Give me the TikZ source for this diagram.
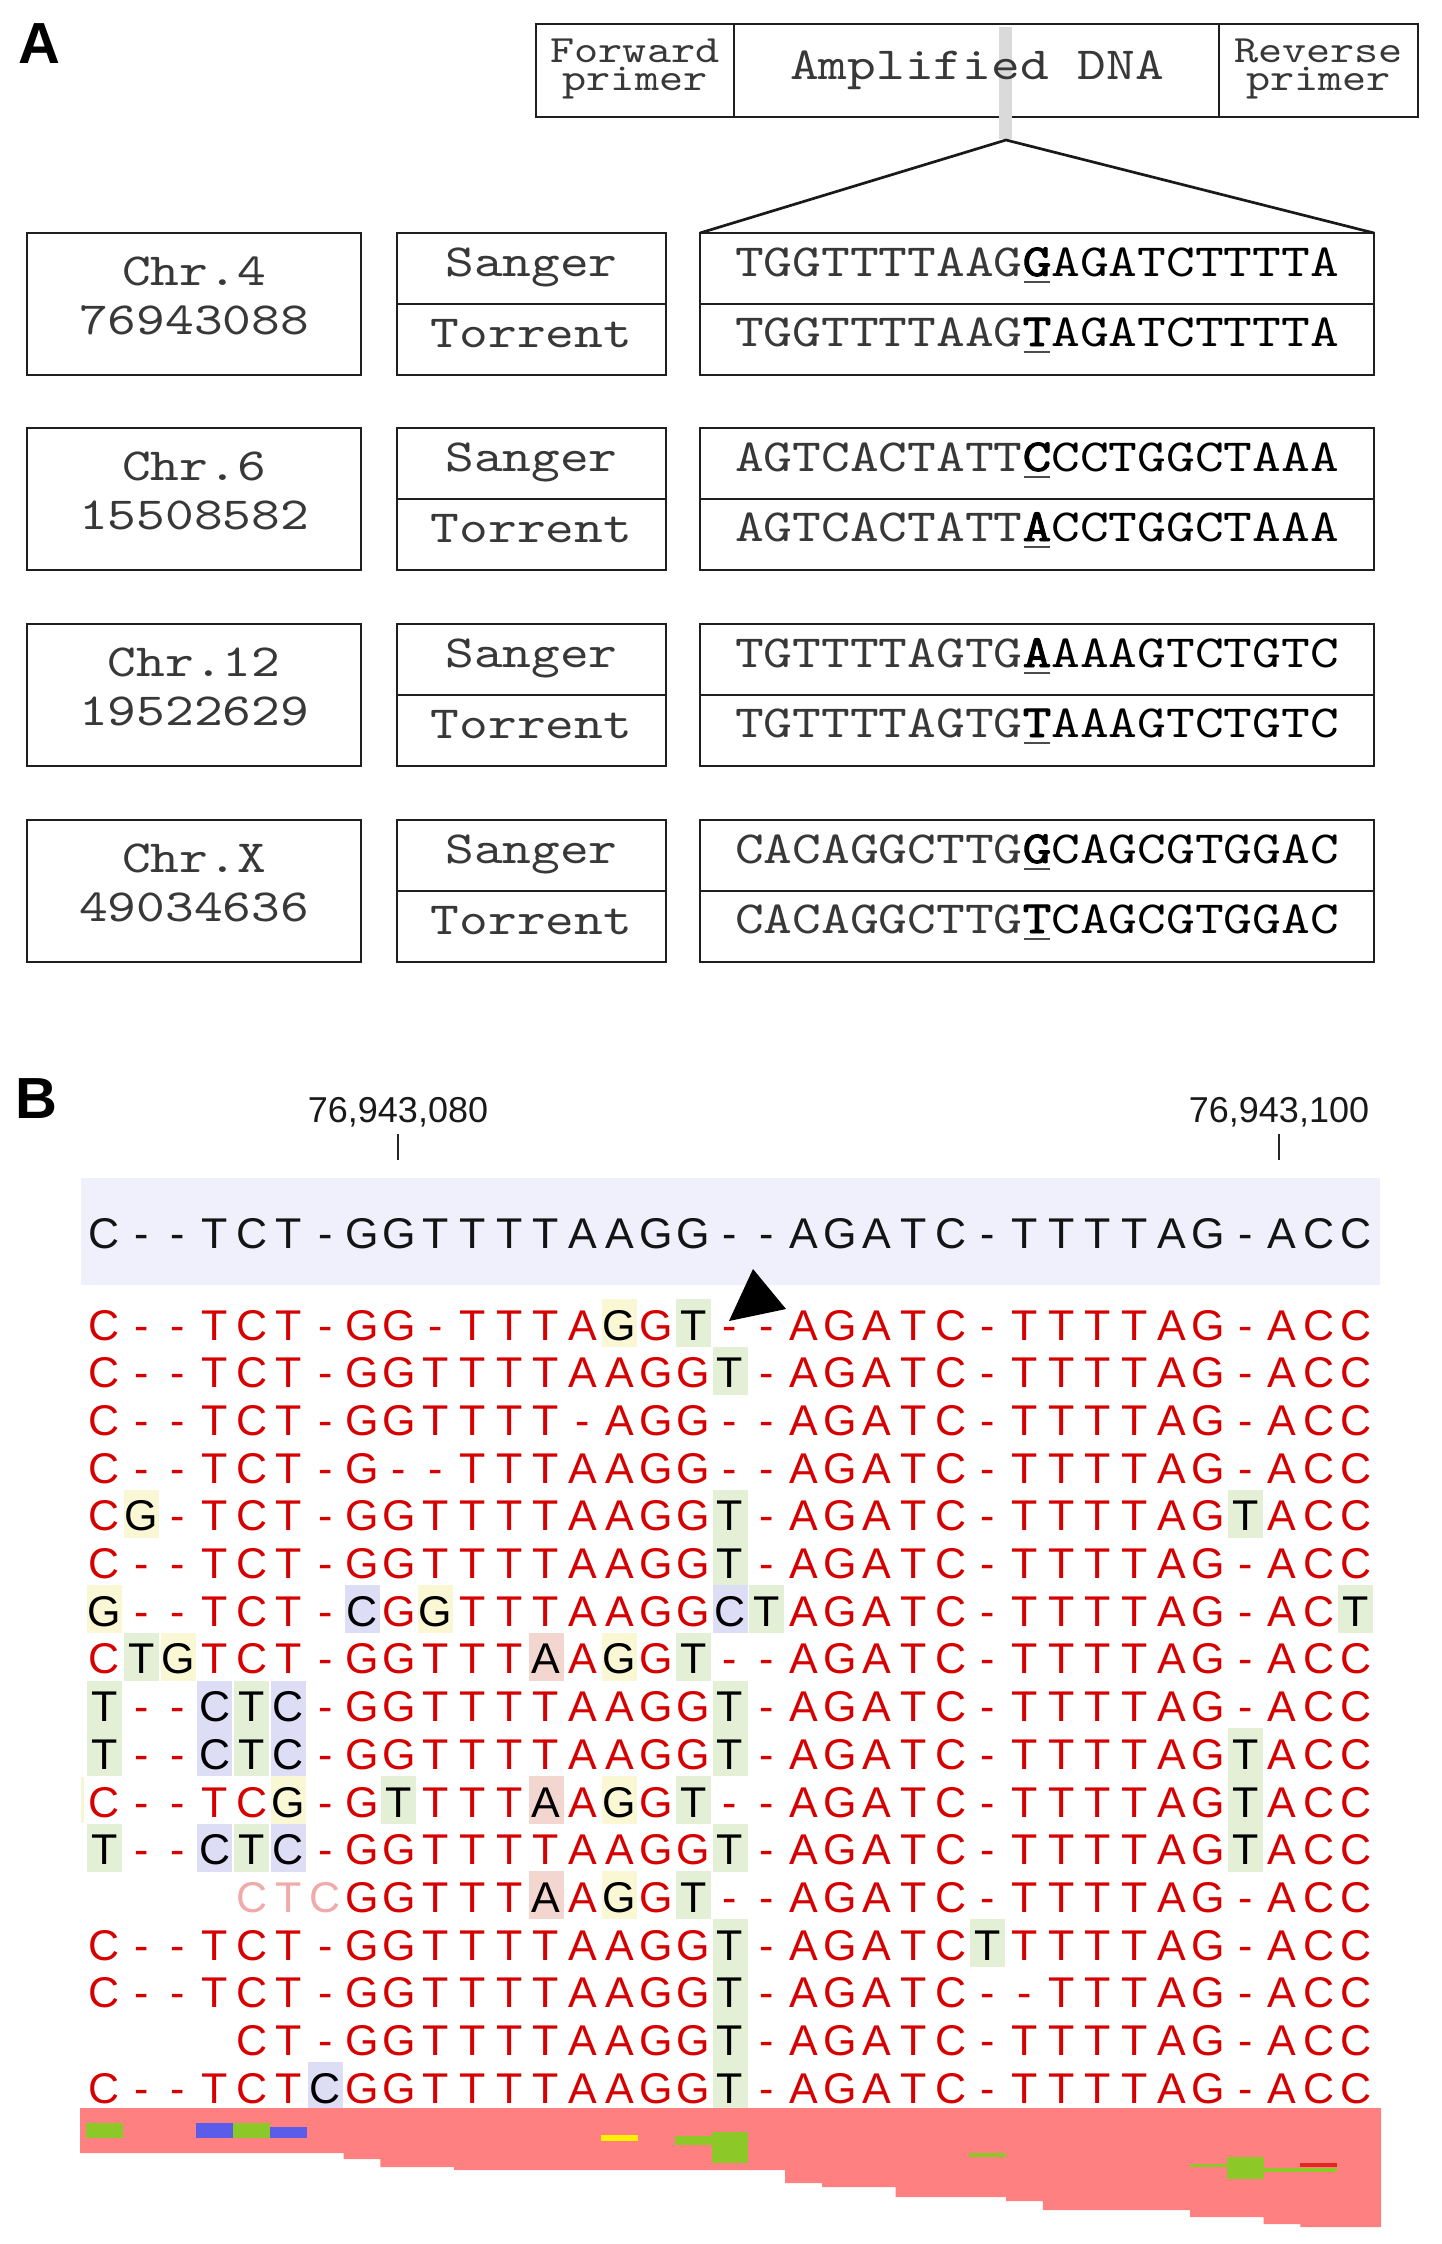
\documentclass[tikz,border=0pt]{standalone}
\usepackage{fontspec}
\setmainfont{Liberation Sans}
\newfontfamily\monof[FakeStretch=1.19]{lmmono10-regular.otf}
\newfontfamily\monob[FakeStretch=1.19,FakeBold=2]{lmmono10-regular.otf}
\newfontfamily\sansf{Liberation Sans}
\definecolor{rdtxt}{RGB}{214,0,0}
\definecolor{hly}{RGB}{250,248,212}
\definecolor{hlg}{RGB}{228,240,214}
\definecolor{hlb}{RGB}{221,221,246}
\definecolor{hlp}{RGB}{244,214,208}
\definecolor{fadetxt}{RGB}{240,170,170}
\definecolor{bandc}{RGB}{240,240,252}
\definecolor{salmon}{RGB}{255,128,128}
\definecolor{covg}{RGB}{140,200,40}
\definecolor{covb}{RGB}{92,92,235}
\definecolor{covy}{RGB}{255,240,0}
\definecolor{covr}{RGB}{225,40,30}
\definecolor{barc}{RGB}{218,218,218}

\newcounter{colidx}
\newcommand\sethl[3]{\expandafter\gdef\csname hl-#1-#2\endcsname{#3}}
\newcommand\drawrow[4]{\def\rowpre{#1}\def\rowy{#2}\def\rowdef{#3}\setcounter{colidx}{0}\dorow#4\relax}
\def\dorow#1{\ifx#1\relax\else\placechar#1\stepcounter{colidx}\expandafter\dorow\fi}
\def\placechar#1{\ifx#1.\else
  \edef\hlkey{hl-\rowpre-\arabic{colidx}}%
  \ifcsname\hlkey\endcsname\edef\curst{\csname\hlkey\endcsname}\else\edef\curst{\rowdef}\fi
  \edef\donode{\noexpand\node[cellbase,cell\curst] (\rowpre c\arabic{colidx}) at ({86+(\arabic{colidx}+0.5)*36.8},\rowy) {#1};}%
  \donode
\fi}
\newcommand\ulb[1]{\setbox0\hbox{\monob\color{black}#1}\rlap{\hspace{0.5pt}\color{black!70}\rule[-3.3pt]{\dimexpr\wd0-1pt\relax}{1pt}}\box0}
\newcommand\abox[5]{\node[boxst, minimum width={((#4)-(#2))*0.5pt}, minimum height={((#5)-(#3))*0.5pt}] (#1) at ({((#2)+(#4))/2},{((#3)+(#5))/2}) {};}

\tikzset{
  cellbase/.style={inner sep=0pt, minimum width=17.5pt, text height=20.5pt, text depth=3.5pt, anchor=base, font={\sansf\fontsize{21.5}{21.5}\selectfont}},
  cellr/.style={text=rdtxt},
  cellk/.style={text=black!92},
  celly/.style={fill=hly, text=black},
  cellg/.style={fill=hlg, text=black},
  cellb/.style={fill=hlb, text=black},
  cellp/.style={fill=hlp, text=black},
  cellf/.style={text=fadetxt},
  boxst/.style={draw=black!88, line width=1.35pt, inner sep=0pt, outer sep=0pt},
  atext/.style={anchor=base, inner sep=0pt, text=black!78, font={\monof\fontsize{23}{23}\selectfont}},
  ptexta/.style={anchor=base, inner sep=0pt, text=black!78, text height=12pt, text depth=0pt, font={\monof\fontsize{19.3}{19.3}\selectfont}},
  ptextb/.style={anchor=base, inner sep=0pt, text=black!78, text height=6pt, text depth=4pt, font={\monof\fontsize{19.3}{19.3}\selectfont}},
  plabel/.style={anchor=base west, inner sep=0pt, font={\sansf\bfseries\fontsize{29}{29}\selectfont}},
  ticklab/.style={anchor=base, inner sep=0pt, text=black!90, font={\sansf\fontsize{18}{18}\selectfont}},
  tickline/.style={line width=1pt, black!85},
  zoomline/.style={line width=1.35pt, black!90},
}

\begin{document}
\begin{tikzpicture}[x=0.5pt, y=-0.5pt]
\useasboundingbox (0,0) rectangle (1441,2244);

% ---------------- Panel A ----------------
\node[plabel] (labA) at (18,63) {A};

\abox{pf}{536}{24}{734}{117}
\abox{pa}{734}{24}{1219}{117}
\abox{pr}{1219}{24}{1418}{117}
\fill[barc] (999,27) rectangle (1012,139);
\coordinate (apex) at (1006,140);

\node[ptexta] (tf1) at (635,62) {Forward};
\node[ptextb] (tf2) at (635,90) {primer};
\node[atext] (tamp) at (977,79) {Amplified DNA};
\node[ptexta] (tr1) at (1318.5,62) {Reverse};
\node[ptextb] (tr2) at (1318.5,90) {primer};

\foreach \g/\t/\chr/\num/\sa/\sb in {
  1/233/Chr.4/76943088/{TGGTTTTAAG\ulb{G}AGATCTTTTA}/{TGGTTTTAAG\ulb{T}AGATCTTTTA},
  2/428/Chr.6/15508582/{AGTCACTATT\ulb{C}CCTGGCTAAA}/{AGTCACTATT\ulb{A}CCTGGCTAAA},
  3/624/Chr.12/19522629/{TGTTTTAGTG\ulb{A}AAAGTCTGTC}/{TGTTTTAGTG\ulb{T}AAAGTCTGTC},
  4/820/Chr.X/49034636/{CACAGGCTTG\ulb{G}CAGCGTGGAC}/{CACAGGCTTG\ulb{T}CAGCGTGGAC}} {
  \abox{chr\g}{27}{\t}{361}{\t+142}
  \abox{san\g}{397}{\t}{666}{\t+71}
  \abox{tor\g}{397}{\t+71}{666}{\t+142}
  \abox{ss\g}{700}{\t}{1374}{\t+71}
  \abox{ts\g}{700}{\t+71}{1374}{\t+142}
  \node[atext] (chrname\g) at (194,\t+52) {\chr};
  \node[atext] (chrnum\g) at (194,\t+101) {\num};
  \node[atext] (sanl\g) at (531.5,\t+43) {Sanger};
  \node[atext] (torl\g) at (531.5,\t+114) {Torrent};
  \node[atext] (sseq\g) at (1037,\t+43) {\sa};
  \node[atext] (tseq\g) at (1037,\t+113) {\sb};
}
\draw[zoomline] (ss1.north west) -- (apex) -- (ss1.north east);

% ---------------- Panel B ----------------
\node[plabel] (labB) at (15,1118) {B};

\node[ticklab] (tl1) at (398,1122) {76,943,080};
\node[ticklab] (tl2) at (1279,1122) {76,943,100};
\coordinate (tk1a) at (398,1134); \coordinate (tk1b) at (398,1160);
\coordinate (tk2a) at (1279,1134); \coordinate (tk2b) at (1279,1160);
\draw[tickline] (tk1a) -- (tk1b);
\draw[tickline] (tk2a) -- (tk2b);

\fill[bandc] (81,1178) rectangle (1380,1285);
\fill[hly!80!hlg] (80.5,1777) rectangle (83.5,1823);

% highlights
\sethl{r1}{14}{y}\sethl{r1}{16}{g}
\sethl{r2}{17}{g}
\sethl{r5}{1}{y}\sethl{r5}{17}{g}\sethl{r5}{31}{g}
\sethl{r6}{17}{g}
\sethl{r7}{0}{y}\sethl{r7}{7}{b}\sethl{r7}{9}{y}\sethl{r7}{17}{b}\sethl{r7}{18}{g}\sethl{r7}{34}{g}
\sethl{r8}{1}{g}\sethl{r8}{2}{y}\sethl{r8}{12}{p}\sethl{r8}{14}{y}\sethl{r8}{16}{g}
\sethl{r9}{0}{g}\sethl{r9}{3}{b}\sethl{r9}{4}{g}\sethl{r9}{5}{b}\sethl{r9}{17}{g}
\sethl{r10}{0}{g}\sethl{r10}{3}{b}\sethl{r10}{4}{g}\sethl{r10}{5}{b}\sethl{r10}{17}{g}\sethl{r10}{31}{g}
\sethl{r11}{5}{y}\sethl{r11}{8}{g}\sethl{r11}{12}{p}\sethl{r11}{14}{y}\sethl{r11}{16}{g}\sethl{r11}{31}{g}
\sethl{r12}{0}{g}\sethl{r12}{3}{b}\sethl{r12}{4}{g}\sethl{r12}{5}{b}\sethl{r12}{17}{g}\sethl{r12}{31}{g}
\sethl{r13}{4}{f}\sethl{r13}{5}{f}\sethl{r13}{6}{f}\sethl{r13}{12}{p}\sethl{r13}{14}{y}\sethl{r13}{16}{g}
\sethl{r14}{17}{g}\sethl{r14}{24}{g}
\sethl{r15}{17}{g}
\sethl{r16}{17}{g}
\sethl{r17}{6}{b}\sethl{r17}{17}{g}

\drawrow{ref}{1248}{k}{C--TCT-GGTTTTAAGG--AGATC-TTTTAG-ACC}
\drawrow{r1}{1340}{r}{C--TCT-GG-TTTAGGT--AGATC-TTTTAG-ACC}
\drawrow{r2}{1387.7}{r}{C--TCT-GGTTTTAAGGT-AGATC-TTTTAG-ACC}
\drawrow{r3}{1435.4}{r}{C--TCT-GGTTTT-AGG--AGATC-TTTTAG-ACC}
\drawrow{r4}{1483.1}{r}{C--TCT-G--TTTAAGG--AGATC-TTTTAG-ACC}
\drawrow{r5}{1530.8}{r}{CG-TCT-GGTTTTAAGGT-AGATC-TTTTAGTACC}
\drawrow{r6}{1578.5}{r}{C--TCT-GGTTTTAAGGT-AGATC-TTTTAG-ACC}
\drawrow{r7}{1626.2}{r}{G--TCT-CGGTTTAAGGCTAGATC-TTTTAG-ACT}
\drawrow{r8}{1673.9}{r}{CTGTCT-GGTTTAAGGT--AGATC-TTTTAG-ACC}
\drawrow{r9}{1721.6}{r}{T--CTC-GGTTTTAAGGT-AGATC-TTTTAG-ACC}
\drawrow{r10}{1769.3}{r}{T--CTC-GGTTTTAAGGT-AGATC-TTTTAGTACC}
\drawrow{r11}{1817}{r}{C--TCG-GTTTTAAGGT--AGATC-TTTTAGTACC}
\drawrow{r12}{1864.7}{r}{T--CTC-GGTTTTAAGGT-AGATC-TTTTAGTACC}
\drawrow{r13}{1912.4}{r}{....CTCGGTTTAAGGT--AGATC-TTTTAG-ACC}
\drawrow{r14}{1960.1}{r}{C--TCT-GGTTTTAAGGT-AGATCTTTTTAG-ACC}
\drawrow{r15}{2007.8}{r}{C--TCT-GGTTTTAAGGT-AGATC--TTTAG-ACC}
\drawrow{r16}{2055.5}{r}{....CT-GGTTTTAAGGT-AGATC-TTTTAG-ACC}
\drawrow{r17}{2103.2}{r}{C--TCTCGGTTTTAAGGT-AGATC-TTTTAG-ACC}

% arrowhead marker
\fill[black] (729,1321) -- (753,1269) -- (786,1309) -- cycle;

% coverage
\fill[salmon] (80,2108) -- (1381,2108) -- (1381,2227) -- (1300.4,2227) -- (1300.4,2224)
  -- (1263.6,2224) -- (1263.6,2217) -- (1190,2217) -- (1190,2210) -- (1042.8,2210)
  -- (1042.8,2201) -- (1006,2201) -- (1006,2197) -- (895.6,2197) -- (895.6,2187)
  -- (822,2187) -- (822,2183) -- (785.2,2183) -- (785.2,2170) -- (454,2170)
  -- (454,2167) -- (380.4,2167) -- (380.4,2159) -- (343.6,2159) -- (343.6,2153)
  -- (80,2153) -- cycle;
\fill[covg] (86,2123) rectangle (122.8,2138);
\fill[covb] (196.4,2123) rectangle (233.2,2138);
\fill[covg] (233.2,2123) rectangle (270,2138);
\fill[covb] (270,2127) rectangle (306.8,2138);
\fill[covy] (601.2,2135) rectangle (638,2141);
\fill[covg] (674.8,2136) rectangle (711.6,2145);
\fill[covg] (711.6,2132) rectangle (748.4,2163);
\fill[covg] (969.2,2153) rectangle (1006,2157);
\fill[covg] (1190,2164) rectangle (1226.8,2167);
\fill[covg] (1226.8,2157) rectangle (1263.6,2179);
\fill[covg] (1263.6,2168) rectangle (1337.2,2172);
\fill[covr] (1300.4,2163) rectangle (1337.2,2167);
\end{tikzpicture}
\end{document}
